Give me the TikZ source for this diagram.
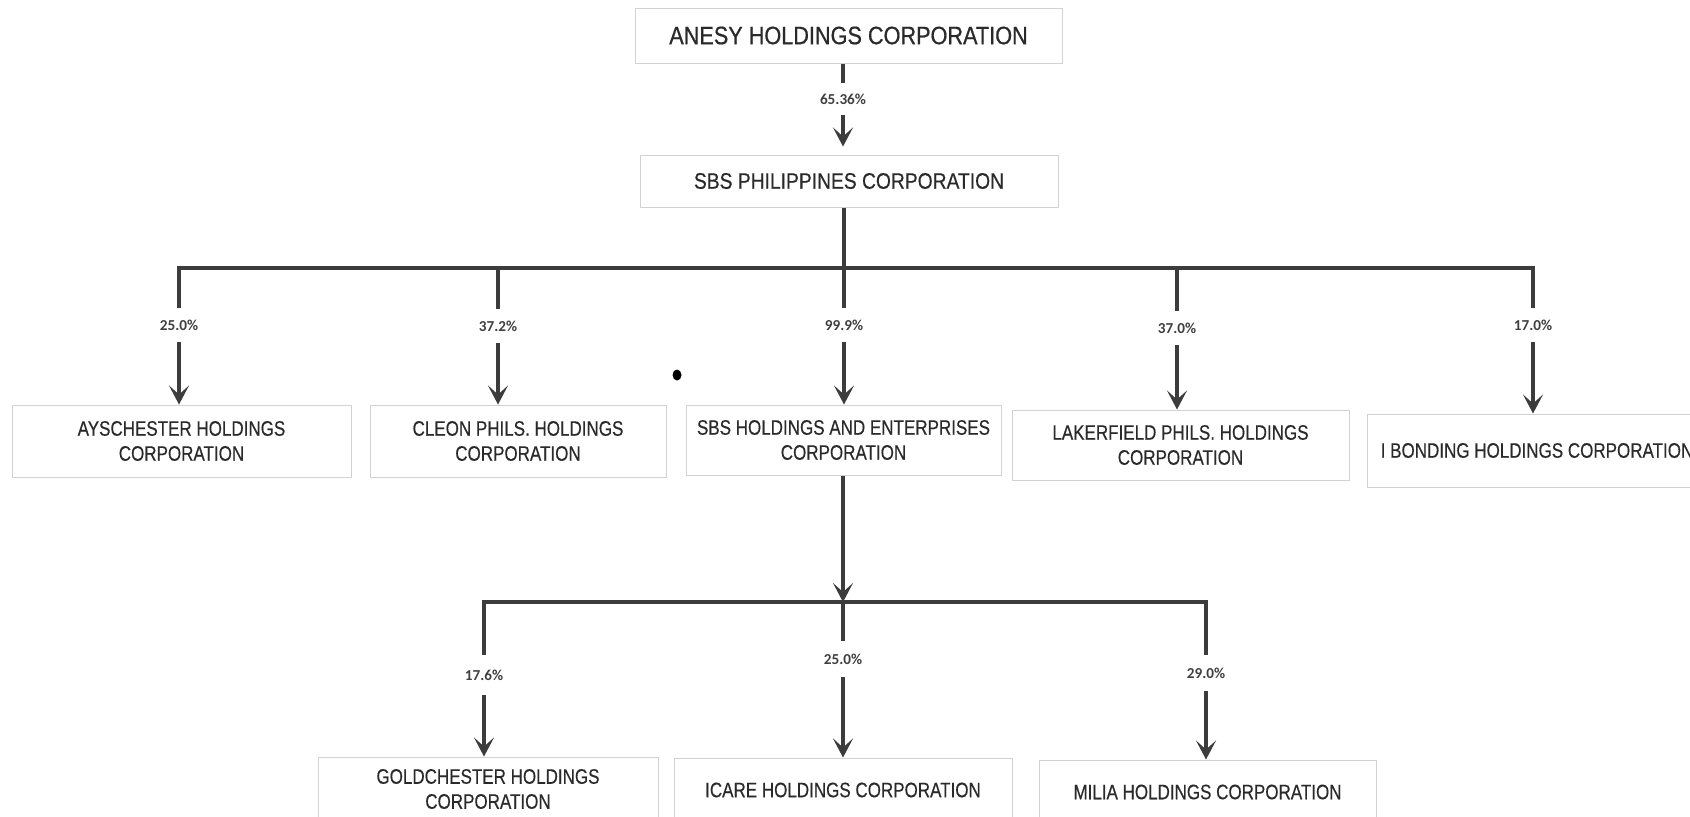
\documentclass[tikz,border=0pt]{standalone}
\usepackage{fontspec}
\usetikzlibrary{arrows.meta}
\newfontfamily\boxfont[FakeStretch=0.81,FakeBold=0.35]{Liberation Sans}
\newfontfamily\topfont[FakeStretch=0.86,FakeBold=0.6]{Liberation Sans}
\newfontfamily\midfont[FakeStretch=0.86,FakeBold=0.4]{Liberation Sans}
\newfontfamily\pctfont{Carlito}
\definecolor{linegray}{HTML}{3C3C3C}
\definecolor{boxgray}{HTML}{D2D2D2}
\definecolor{txtgray}{HTML}{2A2A2A}
\definecolor{pctgray}{HTML}{404040}
\tikzset{
  box/.style={draw=boxgray, line width=0.5pt, inner sep=0pt, align=center, text=txtgray,
    font=\boxfont\fontsize{10.5}{12.5}\selectfont},
  pct/.style={inner sep=0pt, minimum height=17pt, text=pctgray,
    font=\pctfont\bfseries\fontsize{7.6}{9}\selectfont},
  conn/.style={draw=linegray, line width=2pt},
  arr/.style={conn, -{Stealth[length=9.5pt,width=10pt,inset=4.5pt]}},
}
\begin{document}
\begin{tikzpicture}[x=0.5pt,y=-0.5pt]
\useasboundingbox (0,0) rectangle (1690,816);
\clip (0,0) rectangle (1690,816);
\fill[white] (0,0) rectangle (1690,816);

% top level
\node[box, minimum width=213.5pt, minimum height=27.5pt, font=\topfont\fontsize{12.6}{15}\selectfont]
  (anesy) at (848.5,35.5) {ANESY HOLDINGS CORPORATION};
\node[pct, minimum height=16pt] (l0) at (843,99) {65.36\%};
\node[box, minimum width=209pt, minimum height=26pt, font=\midfont\fontsize{11.2}{14}\selectfont]
  (sbsp) at (849,181) {SBS PHILIPPINES CORPORATION};
\draw[conn] (anesy.south -| l0) -- (l0.north);
\draw[arr, shorten >=4pt] (l0.south) -- (l0.south |- sbsp.north);

% second level boxes
\node[box, minimum width=169.5pt, minimum height=36pt] (ays) at (181.5,441) {AYSCHESTER HOLDINGS\\CORPORATION};
\node[box, minimum width=148pt, minimum height=36pt] (cleon) at (518,441) {CLEON PHILS. HOLDINGS\\CORPORATION};
\node[box, minimum width=157.5pt, minimum height=35pt] (sbshe) at (843.5,440) {SBS HOLDINGS AND ENTERPRISES\\CORPORATION};
\node[box, minimum width=168.5pt, minimum height=35pt] (laker) at (1180.5,445) {LAKERFIELD PHILS. HOLDINGS\\CORPORATION};
\node[box, minimum width=170pt, minimum height=36.5pt] (ibond) at (1537,450.5) {I BONDING HOLDINGS CORPORATION};

% percentage labels level 2
\node[pct] (l1) at (179,325) {25.0\%};
\node[pct] (l2) at (498,326) {37.2\%};
\node[pct] (l3) at (844,325) {99.9\%};
\node[pct] (l4) at (1177,328) {37.0\%};
\node[pct] (l5) at (1533,325) {17.0\%};

\coordinate (b1) at (179,268);
\coordinate (b2) at (498,268);
\coordinate (b4) at (1177,268);
\coordinate (b5) at (1533,268);

\draw[conn, line join=miter] (l1.north) -- (b1) -- (b5) -- (l5.north);
\draw[conn] (b2) -- (l2.north);
\draw[conn] (sbsp.south -| l3) -- (l3.north);
\draw[conn] (b4) -- (l4.north);

\draw[arr] (l1.south) -- (l1.south |- ays.north);
\draw[arr] (l2.south) -- (l2.south |- cleon.north);
\draw[arr] (l3.south) -- (l3.south |- sbshe.north);
\draw[arr] (l4.south) -- (l4.south |- laker.north);
\draw[arr] (l5.south) -- (l5.south |- ibond.north);

% third level
\coordinate (c1) at (484,602);
\coordinate (c2) at (843,602);
\coordinate (c3) at (1206,602);
\draw[arr] (sbshe.south -| c2) -- (c2);

\node[pct, minimum height=20pt] (m1) at (484,675) {17.6\%};
\node[pct, minimum height=18pt] (m2) at (843,659) {25.0\%};
\node[pct, minimum height=18pt] (m3) at (1206,673) {29.0\%};

\draw[conn, line join=miter] (m1.north) -- (c1) -- (c3) -- (m3.north);
\draw[conn] (c2) -- (m2.north);

\node[box, minimum width=170pt, minimum height=32pt] (gold) at (488,789) {GOLDCHESTER HOLDINGS\\CORPORATION};
\node[box, minimum width=169pt, minimum height=32pt] (icare) at (843,790) {ICARE HOLDINGS CORPORATION};
\node[box, minimum width=168.5pt, minimum height=32pt] (milia) at (1207.5,792) {MILIA HOLDINGS CORPORATION};

\draw[arr] (m1.south) -- (m1.south |- gold.north);
\draw[arr] (m2.south) -- (m2.south |- icare.north);
\draw[arr] (m3.south) -- (m3.south |- milia.north);

% scan speck
\fill[black] (677,375) ellipse [x radius=4.5, y radius=5.5];
\end{tikzpicture}
\end{document}
